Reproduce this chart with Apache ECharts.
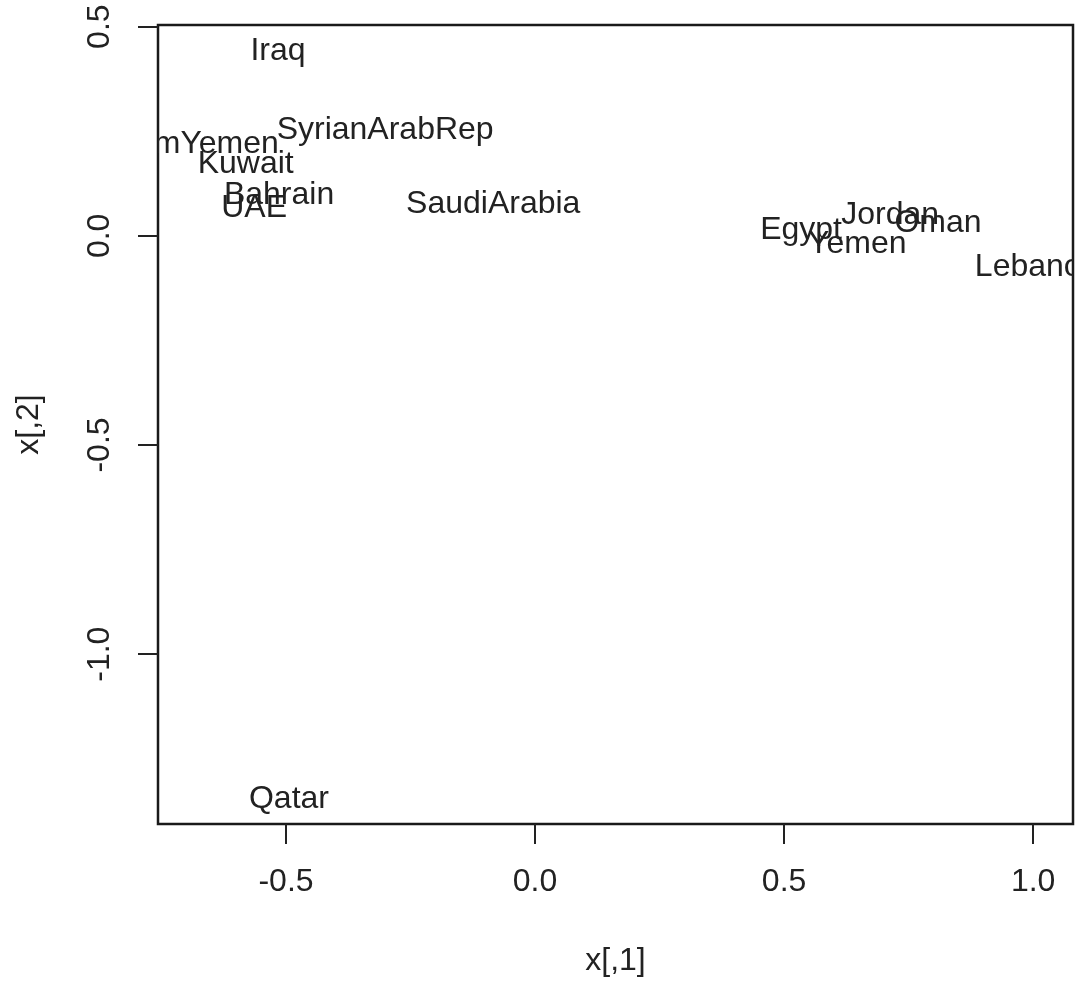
<!DOCTYPE html>
<html>
<head>
<meta charset="utf-8">
<script src="https://cdn.jsdelivr.net/npm/echarts@6/dist/echarts.min.js"></script>
<style>
html,body{margin:0;padding:0;background:#fff;}
#chart{width:1075px;height:982px;}
</style>
</head>
<body>
<div id="chart"></div>
<script>
const names = ['Iraq','SyrianArabRep','DemYemen','Kuwait','Bahrain','UAE','SaudiArabia','Egypt','Jordan','Oman','Yemen','Lebanon','Qatar'];
const xValues = [-0.516,-0.301,-0.681,-0.581,-0.514,-0.564,-0.084,0.534,0.713,0.809,0.647,1.008,-0.494];
const yValues = [0.442,0.253,0.220,0.172,0.098,0.067,0.076,0.014,0.050,0.031,-0.021,-0.076,-1.346];
const xTicks = [-0.5,0.0,0.5,1.0];
const yTicks = [-1.0,-0.5,0.0,0.5];

const data = names.map((n,i)=>[xValues[i], yValues[i], n]);
const font = '"Liberation Sans", Arial, sans-serif';
const chart = echarts.init(document.getElementById('chart'));
chart.setOption({
  backgroundColor:'#fff',
  animation:false,
  grid:{left:158, top:25, right:2, bottom:157, show:true, borderColor:'#1a1a1a', borderWidth:2.5, backgroundColor:'transparent'},
  xAxis:{
    type:'value', min:-0.757, max:1.080,
    name:'x[,1]', nameLocation:'middle', nameGap:121,
    nameTextStyle:{fontFamily:font, fontSize:32, color:'#222'},
    axisLine:{show:false, onZero:false},
    splitLine:{show:false},
    axisTick:{show:true, length:20, inside:false, customValues:xTicks, lineStyle:{color:'#222', width:2}},
    axisLabel:{customValues:xTicks, margin:42, fontFamily:font, fontSize:32, color:'#222',
      formatter:v=>v.toFixed(1)}
  },
  yAxis:{
    type:'value', min:-1.406, max:0.504,
    name:'x[,2]', nameLocation:'middle', nameGap:113, nameRotate:90,
    nameTextStyle:{fontFamily:font, fontSize:32, color:'#222'},
    axisLine:{show:false, onZero:false},
    splitLine:{show:false},
    axisTick:{show:true, length:20, inside:false, customValues:yTicks, lineStyle:{color:'#222', width:2}},
    axisLabel:{customValues:yTicks, rotate:90, margin:42, fontFamily:font, fontSize:32, color:'#222',
      formatter:v=>v.toFixed(1)}
  },
  series:[{
    type:'custom',
    clip:true,
    data:data,
    renderItem:function(params, api){
      const p = api.coord([api.value(0), api.value(1)]);
      return {
        type:'text',
        x:p[0], y:p[1],
        style:{text:names[params.dataIndex], font:'32px ' + font, fill:'#222', align:'center', verticalAlign:'middle'}
      };
    }
  }]
});
</script>
</body>
</html>
